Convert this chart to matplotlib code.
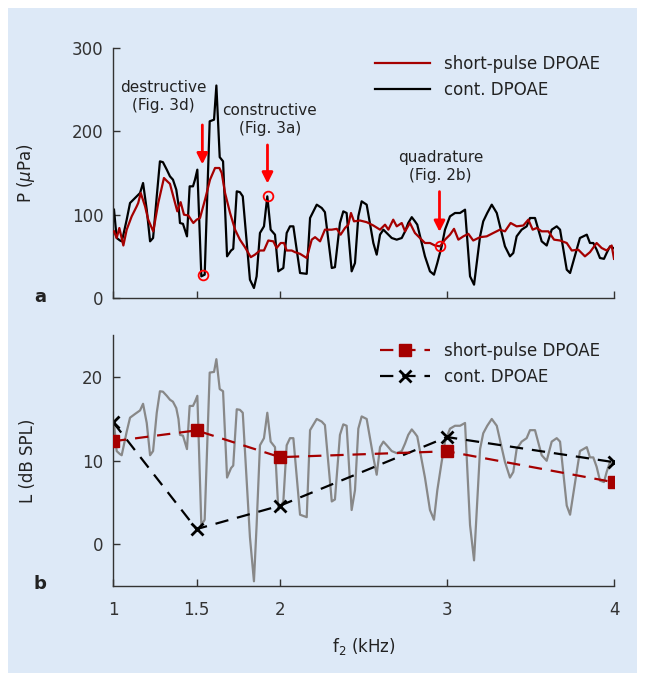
import numpy as np
import matplotlib
matplotlib.use("Agg")
import matplotlib.pyplot as plt
from matplotlib.patches import Rectangle

# continuous DPOAE amplitude (uPa) vs f2 (kHz)
f_cont = [1.006, 1.022, 1.042, 1.052, 1.060, 1.082, 1.102, 1.132, 1.162, 1.180,
          1.202, 1.222, 1.240, 1.262, 1.281, 1.299, 1.322, 1.341, 1.359, 1.379,
          1.392, 1.401, 1.419, 1.443, 1.459, 1.479, 1.491, 1.505, 1.529, 1.549,
          1.579, 1.605, 1.619, 1.639, 1.659, 1.683, 1.707, 1.720, 1.741, 1.760,
          1.777, 1.820, 1.844, 1.860, 1.880, 1.904, 1.924, 1.944, 1.970, 1.990,
          2.020, 2.040, 2.060, 2.080, 2.120, 2.160, 2.180, 2.220, 2.250, 2.269,
          2.310, 2.329, 2.359, 2.379, 2.399, 2.429, 2.449, 2.469, 2.489, 2.519,
          2.559, 2.579, 2.599, 2.619, 2.639, 2.669, 2.699, 2.729, 2.749, 2.768,
          2.789, 2.808, 2.822, 2.868, 2.898, 2.922, 2.942, 2.968, 2.988, 3.018,
          3.048, 3.078, 3.108, 3.138, 3.162, 3.198, 3.217, 3.241, 3.268, 3.298,
          3.347, 3.377, 3.397, 3.417, 3.447, 3.477, 3.497, 3.527, 3.567, 3.597,
          3.627, 3.657, 3.677, 3.717, 3.737, 3.796, 3.837, 3.856, 3.876, 3.896,
          3.916, 3.940, 3.956, 3.976, 3.996]
p_cont = [106, 72, 69, 68, 74, 94, 114, 120, 126, 138,
          106, 68, 72, 122, 164, 163, 154, 146, 142, 130,
          112, 90, 89, 74, 134, 134, 142, 154, 26, 28,
          212, 214, 255, 169, 164, 50, 57, 59, 128, 127,
          122, 22, 12, 26, 78, 86, 122, 82, 76, 32,
          36, 78, 86, 86, 30, 29, 96, 112, 108, 103,
          36, 37, 90, 104, 102, 32, 42, 98, 116, 112,
          66, 52, 76, 82, 78, 72, 70, 72, 80, 90,
          97, 92, 88, 50, 32, 28, 42, 62, 82, 98,
          102, 102, 106, 26, 16, 74, 92, 102, 112, 102,
          62, 50, 54, 74, 82, 86, 96, 96, 68, 63,
          82, 86, 82, 34, 30, 72, 76, 66, 66, 58,
          48, 47, 54, 62, 60]

# short-pulse DPOAE amplitude (uPa)
f_sp = [1.006, 1.022, 1.038, 1.062, 1.082, 1.112, 1.142, 1.151, 1.166, 1.192,
        1.211, 1.241, 1.271, 1.305, 1.325, 1.341, 1.361, 1.385, 1.405, 1.425,
        1.451, 1.481, 1.501, 1.521, 1.551, 1.581, 1.611, 1.637, 1.651, 1.671,
        1.701, 1.731, 1.760, 1.790, 1.825, 1.850, 1.880, 1.904, 1.930, 1.960,
        1.980, 2.004, 2.024, 2.040, 2.070, 2.090, 2.120, 2.160, 2.190, 2.210,
        2.240, 2.269, 2.310, 2.340, 2.363, 2.389, 2.409, 2.425, 2.443, 2.479,
        2.519, 2.559, 2.599, 2.629, 2.649, 2.678, 2.699, 2.729, 2.749, 2.778,
        2.808, 2.838, 2.868, 2.898, 2.928, 2.958, 2.988, 3.018, 3.042, 3.068,
        3.098, 3.128, 3.157, 3.198, 3.238, 3.277, 3.317, 3.347, 3.381, 3.417,
        3.457, 3.487, 3.513, 3.537, 3.567, 3.607, 3.641, 3.677, 3.717, 3.747,
        3.786, 3.826, 3.856, 3.896, 3.926, 3.956, 3.986, 4.000]
p_sp = [80, 72, 84, 63, 82, 98, 110, 114, 126, 110,
        94, 80, 114, 144, 140, 137, 122, 104, 115, 100,
        99, 90, 94, 96, 118, 142, 156, 156, 150, 126,
        102, 82, 70, 61, 49, 52, 57, 57, 69, 68,
        60, 66, 66, 57, 57, 55, 53, 48, 70, 73,
        68, 82, 82, 83, 76, 84, 88, 102, 92, 93,
        91, 87, 82, 88, 82, 94, 86, 90, 80, 90,
        78, 72, 66, 66, 63, 62, 70, 76, 83, 70,
        74, 77, 69, 73, 74, 78, 82, 80, 90, 86,
        87, 94, 82, 84, 80, 80, 70, 69, 66, 57,
        58, 50, 55, 66, 60, 57, 63, 47]

# levels at the five test frequencies (dB SPL)
f_pts = [1.0, 1.5, 2.0, 3.0, 4.0]
L_sp = [12.3, 13.6, 10.4, 11.1, 7.4]
L_cont = [14.6, 1.8, 4.6, 12.8, 9.8]

# marked examples: (label, f2, P of circle)
marks = [("destructive\n(Fig. 3d)", 1.54, 28),
         ("constructive\n(Fig. 3a)", 1.93, 123),
         ("quadrature\n(Fig. 2b)", 2.96, 62)]
mark_text_pos = [(1.30, 242), (1.94, 214), (2.96, 158)]
mark_arrow = [(211, 157), (187, 134), (131, 76)]

bg = "#dde9f7"
dred = "#a50000"
txt = "#222222"

plt.rcParams["font.size"] = 12
plt.rcParams["text.color"] = txt
plt.rcParams["axes.labelcolor"] = txt
plt.rcParams["xtick.color"] = "#333333"
plt.rcParams["ytick.color"] = "#333333"

fig = plt.figure(figsize=(6.45, 6.81), dpi=100, facecolor="white")
fig.patches.append(Rectangle((8 / 645, 8 / 681), 629 / 645, 665 / 681,
                             transform=fig.transFigure, facecolor=bg,
                             edgecolor="none", zorder=-1))

ax1 = fig.add_axes([113 / 645, 1 - 298 / 681, 501 / 645, 250 / 681])
ax2 = fig.add_axes([113 / 645, 1 - 586 / 681, 501 / 645, 251 / 681])

xticks = [1, 1.5, 2, 3, 4]
for ax in (ax1, ax2):
    ax.set_facecolor("none")
    for s in ("top", "right"):
        ax.spines[s].set_visible(False)
    for s in ("left", "bottom"):
        ax.spines[s].set_color("#333333")
        ax.spines[s].set_linewidth(1.0)
    ax.set_xlim(1, 4)
    ax.set_xticks(xticks)
    ax.tick_params(direction="in", length=5, width=1)
    ax.tick_params(axis="x", pad=11)
    ax.tick_params(axis="y", pad=7)

# panel a
ax1.plot(f_sp, p_sp, color=dred, lw=1.6, label="short-pulse DPOAE", zorder=3)
ax1.plot(f_cont, p_cont, color="black", lw=1.6, label="cont. DPOAE", zorder=2)
ax1.set_ylim(0, 300)
ax1.set_yticks([0, 100, 200, 300])
ax1.set_xticklabels([])
ax1.set_ylabel(r"P ($\mu$Pa)")
ax1.yaxis.set_label_coords(-0.152, 0.5)
for (lab, fx, py), (tx, ty), (ay0, ay1) in zip(marks, mark_text_pos, mark_arrow):
    ax1.plot(fx, py, "o", mfc="none", mec="red", ms=7, mew=1.3, zorder=4)
    ax1.text(tx, ty, lab, ha="center", va="center", fontsize=11,
             linespacing=1.3)
    ax1.annotate("", xy=(fx - 0.005, ay1), xytext=(fx - 0.005, ay0),
                 arrowprops=dict(arrowstyle="-|>", color="red", lw=2,
                                 mutation_scale=16))
ax1.legend(loc="upper right", bbox_to_anchor=(0.985, 1.0), frameon=False,
           handlelength=3.3, borderaxespad=0, fontsize=12)
fig.text(40 / 645, 1 - 297 / 681, "a", fontweight="bold", fontsize=13,
         ha="center", va="center")

# panel b: same continuous recording in dB SPL (re 20 uPa)
L_fine = 20 * np.log10(np.array(p_cont) / 20.0)
ax2.plot(f_cont, L_fine, color="#888888", lw=1.6, zorder=1)
ax2.plot(f_pts, L_sp, color=dred, ls=(0, (6, 4)), lw=1.6, marker="s", ms=8,
         label="short-pulse DPOAE", zorder=3)
ax2.plot(f_pts, L_cont, color="black", ls=(0, (6, 4)), lw=1.6, marker="x",
         ms=8, mew=2, label="cont. DPOAE", zorder=2)
ax2.set_ylim(-5, 25)
ax2.set_yticks([0, 10, 20])
ax2.set_xticklabels(["1", "1.5", "2", "3", "4"])
ax2.set_ylabel("L (dB SPL)")
ax2.yaxis.set_label_coords(-0.152, 0.5)
ax2.set_xlabel(r"f$_2$ (kHz)")
ax2.xaxis.set_label_coords(0.5, -0.2)
ax2.legend(loc="upper right", bbox_to_anchor=(0.985, 1.0), frameon=False,
           handlelength=3.0, borderaxespad=0, fontsize=12)
fig.text(40 / 645, 1 - 584 / 681, "b", fontweight="bold", fontsize=13,
         ha="center", va="center")

fig.savefig("out.png", dpi=100, facecolor=fig.get_facecolor())
